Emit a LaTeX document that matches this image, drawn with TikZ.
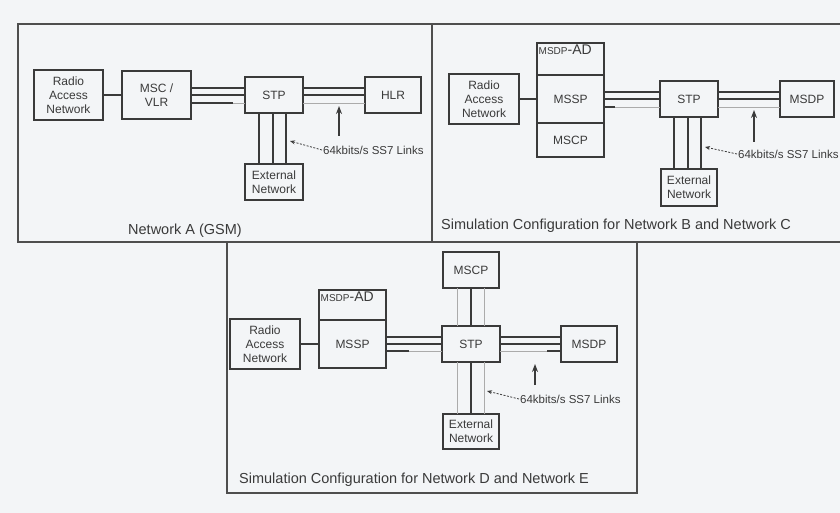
\documentclass[tikz,border=0pt]{standalone}
\usepackage{fontspec}
\setmainfont{Liberation Sans}
\usetikzlibrary{positioning, arrows.meta}
\definecolor{ink}{HTML}{3A3A3A}
\definecolor{paper}{HTML}{F3F5F7}
\definecolor{paleLink}{HTML}{ABABAB}

\begin{document}
\begin{tikzpicture}[x=1pt, y=-1pt,
  box/.style={draw=ink, line width=1.1pt, align=center, inner sep=1pt, outer sep=0pt, text=ink, font=\fontsize{12}{14}\selectfont},
  link/.style={draw=ink, line width=1.3pt},
  pale/.style={draw=paleLink, line width=0.9pt},
  frame/.style={draw=ink!90, line width=1.4pt},
  caption/.style={anchor=west, inner sep=0pt, text=ink, font=\fontsize{14.5}{16}\selectfont},
  note/.style={anchor=west, inner sep=1pt, text=ink, font=\fontsize{11.5}{13}\selectfont},
  hint/.style={draw=ink, line width=0.8pt, dash pattern=on 2pt off 1.5pt, -{Stealth[length=5pt, width=4pt]}},
  point/.style={draw=ink, line width=1.3pt, -{Stealth[length=8pt, width=6pt]}},
  tag/.style={anchor=north west, inner sep=1.5pt, text=ink}]

\useasboundingbox[fill=paper] (0,0) rectangle (840,513);

% panel frames
\draw[frame] (840,24) -- (18,24) -- (18,242) -- (840,242);
\draw[frame] (432,24) -- (432,242);
\draw[frame] (227,242) -- (227,493) -- (637,493) -- (637,242);

% Network A (GSM)
\node[box, minimum width=69, minimum height=50] (ranA) at (68.5,95) {Radio\\Access\\Network};
\node[box, minimum width=69, minimum height=48] (mscA) at (156.5,95) {MSC /\\VLR};
\node[box, minimum width=58, minimum height=36] (stpA) at (274,95) {STP};
\node[box, minimum width=56, minimum height=36] (hlrA) at (393,95) {HLR};
\node[box, minimum width=58, minimum height=36] (extA) at (274,182) {External\\Network};
\draw[link] (ranA) -- (mscA);
\foreach \dy in {7,0}
{\draw[link] ([yshift=\dy]mscA.east) -- ([yshift=\dy]stpA.west);
 \draw[link] ([yshift=\dy]stpA.east) -- ([yshift=\dy]hlrA.west);}
\draw[pale] ([yshift=-8]mscA.east) -- ([yshift=-8]stpA.west);
\draw[link] ([yshift=-8]mscA.east) -- ++(42,0);
\draw[pale] ([yshift=-8]stpA.east) -- ([yshift=-8]hlrA.west);
\foreach \dx in {-15,-1,12}
{\draw[link] ([xshift=\dx]stpA.south) -- ([xshift=\dx]extA.north);}
\node[note] (lblA) at (322,150) {64kbits/s SS7 Links};
\coordinate (tailA) at (339,136);
\coordinate (tipA) at (339,106);
\coordinate (dashA) at (290,141);
\draw[point] (tailA) -- (tipA);
\draw[hint] (lblA.west) -- (dashA);
\node[caption] (capA) at (128,231) {Network A (GSM)};

% Network B and Network C
\node[box, minimum width=70, minimum height=50] (ranB) at (484,99) {Radio\\Access\\Network};
\node[box, minimum width=67, minimum height=48] (mssB) at (570.5,99) {MSSP};
\node[box, minimum width=67, minimum height=32, above=0pt of mssB] (adB) {};
\node[box, minimum width=67, minimum height=34, below=0pt of mssB] (mcpB) {MSCP};
\node[tag] (adtB) at (adB.north west) {\fontsize{10}{12}\selectfont MSDP\fontsize{14}{16}\selectfont-AD};
\node[box, minimum width=58, minimum height=36] (stpB) at (689,99) {STP};
\node[box, minimum width=54, minimum height=36] (msdB) at (807,99) {MSDP};
\node[box, minimum width=56, minimum height=37] (extB) at (689,187.5) {External\\Network};
\draw[link] (ranB) -- (mssB);
\foreach \dy in {7,0}
{\draw[link] ([yshift=\dy]mssB.east) -- ([yshift=\dy]stpB.west);
 \draw[link] ([yshift=\dy]stpB.east) -- ([yshift=\dy]msdB.west);}
\draw[pale] ([yshift=-8]mssB.east) -- ([yshift=-8]stpB.west);
\draw[link] ([yshift=-8]mssB.east) -- ++(11,0);
\draw[pale] ([yshift=-8]stpB.east) -- ([yshift=-8]msdB.west);
\foreach \dx in {-15,-1,12}
{\draw[link] ([xshift=\dx]stpB.south) -- ([xshift=\dx]extB.north);}
\node[note] (lblB) at (737,154) {64kbits/s SS7 Links};
\coordinate (tailB) at (754,142);
\coordinate (tipB) at (754,110);
\coordinate (dashB) at (705,147);
\draw[point] (tailB) -- (tipB);
\draw[hint] (lblB.west) -- (dashB);
\node[caption] (capB) at (441,226) {Simulation Configuration for Network B and Network C};

% Network D and Network E
\node[box, minimum width=70, minimum height=50] (ranD) at (265,344) {Radio\\Access\\Network};
\node[box, minimum width=67, minimum height=48] (mssD) at (352.5,344) {MSSP};
\node[box, minimum width=67, minimum height=30, above=0pt of mssD] (adD) {};
\node[tag] (adtD) at (adD.north west) {\fontsize{10}{12}\selectfont MSDP\fontsize{14}{16}\selectfont-AD};
\node[box, minimum width=58, minimum height=36] (stpD) at (471,344) {STP};
\node[box, minimum width=56, minimum height=36] (msdD) at (589,344) {MSDP};
\node[box, minimum width=56, minimum height=36] (mcpD) at (471,270) {MSCP};
\node[box, minimum width=56, minimum height=35] (extD) at (471,431.5) {External\\Network};
\draw[link] (ranD) -- (mssD);
\foreach \dy in {7,0}
{\draw[link] ([yshift=\dy]mssD.east) -- ([yshift=\dy]stpD.west);
 \draw[link] ([yshift=\dy]stpD.east) -- ([yshift=\dy]msdD.west);}
\draw[pale] ([yshift=-7]mssD.east) -- ([yshift=-7]stpD.west);
\draw[link] ([yshift=-7]mssD.east) -- ++(23,0);
\draw[pale] ([yshift=-7]stpD.east) -- ([yshift=-7]msdD.west);
\draw[link] ([yshift=-7]msdD.west) -- ++(-14,0);
\foreach \dx in {-14,13}
{\draw[pale] ([xshift=\dx]mcpD.south) -- ([xshift=\dx]stpD.north);
 \draw[pale] ([xshift=\dx]stpD.south) -- ([xshift=\dx]extD.north);}
\draw[link] (mcpD) -- (stpD);
\draw[link] (stpD) -- (extD);
\node[note] (lblD) at (519,399) {64kbits/s SS7 Links};
\coordinate (tailD) at (535,385);
\coordinate (tipD) at (535,364);
\coordinate (dashD) at (487,391);
\draw[point] (tailD) -- (tipD);
\draw[hint] (lblD.west) -- (dashD);
\node[caption] (capD) at (239,480) {Simulation Configuration for Network D and Network E};
\end{tikzpicture}
\end{document}
